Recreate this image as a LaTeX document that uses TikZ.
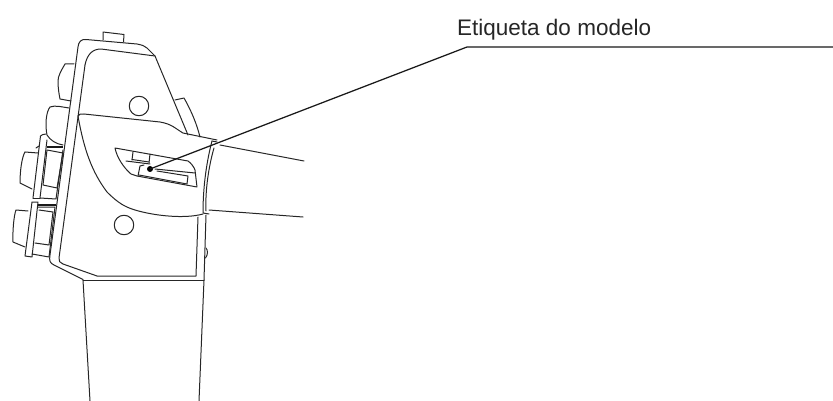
\documentclass[tikz,border=0pt]{standalone}
\usepackage{fontspec}
\setmainfont{Liberation Sans}
\begin{document}
\begin{tikzpicture}[x=1pt,y=-1pt,
  ink/.style={draw=black!85,line width=1pt,line join=round,line cap=round},
  leader/.style={draw=black!90,line width=1.25pt},
  bar/.style={draw=black!90,line width=2.6pt},
  labeltext/.style={inner sep=0pt,anchor=base west,text=black!85,font=\fontsize{22.5}{26}\selectfont}]
\useasboundingbox (0,0) rectangle (833,401);
% top tab
\draw[ink] (103,40) -- (103,32) -- (124,34.5) -- (123.5,42);
% outer body
\draw[ink] (50,255) .. controls (49,261) and (50,263) .. (54,265) -- (83,279.5)
  (50,255) -- (78,47) .. controls (78.5,42) and (81,39) .. (86,39.5)
  -- (137,44) .. controls (142,45) and (145,46) .. (147,48) -- (155,56) -- (188,135);
% inner panel
\draw[ink] (85,65) .. controls (87,55) and (92,49) .. (101,49) -- (155,56);
\draw[ink] (85,65) -- (59,258) .. controls (58.5,261) and (60,263) .. (63,264) -- (97,276) -- (196,276) -- (198,217);
% lower handle
\draw[ink] (83,280) -- (204,280);
\draw[ink] (83,280) -- (90,401);
\draw[ink] (204,280) -- (199,401);
% right strip and bump
\draw[ink] (206,215) -- (204,280);
\draw[ink] (206,248) .. controls (208,250) and (208,255) .. (205.5,258);
% circles
\node[ink,circle,minimum size=19.5pt,inner sep=0pt] (c1) at (139,106) {};
\node[ink,circle,minimum size=19.5pt,inner sep=0pt] (c2) at (124,225) {};
% grip
\draw[ink] (78,116) .. controls (79,114) and (80,114) .. (84,114) -- (160,122)
  .. controls (172,124) and (176,129) .. (183,133) -- (217,140);
\draw[ink] (78,116) .. controls (84,150) and (92,172) .. (107,192)
  .. controls (118,203) and (125,207) .. (135,210) .. controls (155,216) and (185,219) .. (203,214);
% right lobe
\draw[ink] (175,100) -- (184,98) .. controls (192,112) and (197,125) .. (200,137);
% collar
\draw[ink] (212,141) .. controls (207,160) and (203,185) .. (203,213) -- (209,214);
\draw[ink] (214,148) .. controls (209,165) and (205,190) .. (206,211);
\draw[ink] (212,141) -- (217,142);
\draw[ink] (209,210) -- (303,217);
\draw[ink] (220,145) -- (304,161);
% slot
\draw[ink] (115,148) -- (188,161) .. controls (191,163) and (194,167) .. (195,170) -- (197,187) -- (137,176) -- (131,174)
  .. controls (124,168) and (117,158) .. (115,148);
\draw[ink] (133,152) -- (132,160);
\draw[ink] (150,154) -- (149,163);
\draw[ink] (126,161) -- (150,164);
\draw[ink] (132,159.5) -- (149,162);
\draw[ink] (144,165) -- (140,166) -- (138,176);
\draw[ink] (155,169) -- (195,173);
\draw[ink] (157,171) -- (188,176) -- (187,184) -- (139,175);
% knob 1
\draw[ink] (74,64) -- (65,64) .. controls (61,71) and (58,76) .. (58,81) .. controls (58,88) and (59,94) .. (60,99) -- (71,101);
% knob 2
\draw[ink] (69,108) .. controls (62,107) and (55,105) .. (50,107) .. controls (46,112) and (45,125) .. (47,135)
  .. controls (50,140) and (56,144) .. (63,145);
\draw[bar] (47,147) -- (63,147);
% connector 3
\draw[ink] (33,198) -- (40.5,136) .. controls (41,135) and (44,134) .. (46,134);
\draw[ink] (40,198) -- (47,140);
\draw[ink] (33,198) -- (40,198);
\draw[ink] (36,148) -- (39,146);
\draw[ink] (43,185) -- (47,150) -- (63,153) -- (57,188) -- (43,185);
\draw[ink] (40,198) -- (56,199) -- (63,150);
\draw[ink] (25,152) -- (38,153);
\draw[ink] (25,152) .. controls (22,157) and (20,170) .. (20,183) -- (32,189);
% connector 4
\draw[ink] (32,202) -- (25,256) -- (32,257) -- (38,202) -- cycle;
\draw[bar] (38,205) -- (56,205);
\draw[ink] (38,207) -- (55,207) -- (49,257) -- (32,254);
\draw[ink] (39,210) -- (53,212) -- (49,245) -- (35,243);
\draw[ink] (28,211) -- (16,210) .. controls (14,215) and (12.5,230) .. (13,242) -- (25,247);
% label and leader
\node[labeltext] (lbl) at (457,35.5) {Etiqueta do modelo};
\node[circle,fill=black,inner sep=0pt,minimum size=6pt] (dot) at (150,169) {};
\coordinate (kink) at (467,47);
\coordinate (end) at (833,47);
\draw[leader] (dot.center) -- (kink) -- (end);
\end{tikzpicture}
\end{document}
